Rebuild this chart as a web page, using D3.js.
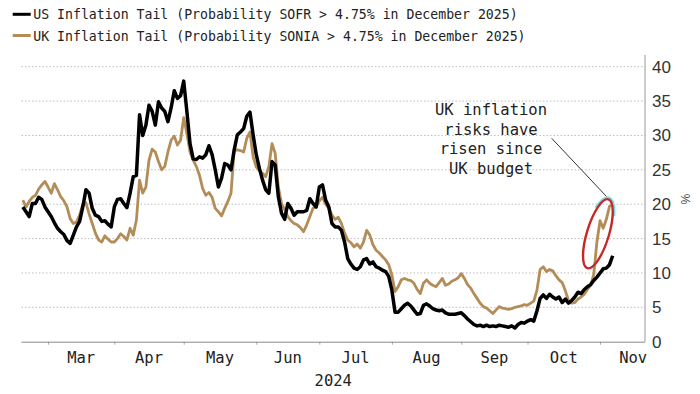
<!DOCTYPE html>
<meta charset="utf-8">
<style>
body { margin: 0; background: #fff; }
text { fill: #222; }
.mono { font-family: "DejaVu Sans Mono", monospace; }
.ytick { font-family: "Liberation Sans", Arial, sans-serif; font-size: 17px; fill: #333; }
</style>
<script src="https://d3js.org/d3.v7.min.js"></script>
<body>
<div id="chart"></div>
<script>
// legend labels
var usLabel = "US Inflation Tail (Probability SOFR > 4.75% in December 2025)";
var ukLabel = "UK Inflation Tail (Probability SONIA > 4.75% in December 2025)";

// first plotted business day, one value per business day after that
var firstDay = "2024-02-20";

// probability in %, US (SOFR)
var usValues = [
  19.6, 18.9, 18.2, 20.1, 20.1, 21.0, 20.7, 19.6, 18.9, 18.2,
  17.3, 16.5, 16.0, 15.6, 14.7, 14.3, 15.5, 16.7, 17.5, 19.6,
  22.1, 21.6, 19.4, 18.4, 18.2, 17.5, 17.6, 17.1, 16.7, 19.6,
  20.7, 20.8, 20.1, 19.5, 21.6, 24.0, 24.2, 33.0, 30.0, 31.5,
  34.4, 33.5, 31.5, 34.9, 34.0, 33.5, 32.0, 34.0, 36.5, 35.4,
  35.8, 37.9, 33.5, 28.8, 26.6, 26.5, 26.9, 26.7, 27.2, 28.5,
  27.2, 25.0, 22.5, 23.8, 25.9, 25.7, 25.0, 27.9, 30.1, 30.5,
  31.0, 32.8, 33.4, 30.1, 27.2, 25.2, 23.5, 22.1, 21.6, 26.2,
  25.7, 21.1, 18.7, 17.8, 20.1, 19.4, 18.4, 18.9, 18.9, 18.9,
  19.1, 20.8, 20.1, 19.6, 22.5, 22.8, 20.6, 19.6, 17.2, 16.7,
  16.7, 16.2, 14.5, 12.1, 11.3, 10.7, 10.5, 10.9, 11.9, 12.1,
  11.3, 11.6, 10.9, 10.7, 10.4, 10.2, 9.5, 7.5, 4.3, 4.3,
  4.8, 5.3, 5.6, 5.2, 4.6, 4.0, 4.1, 5.3, 5.5, 5.2,
  4.8, 4.6, 4.5, 4.6, 4.2, 4.0, 4.0, 4.0, 4.1, 4.2,
  3.8, 3.3, 2.9, 2.5, 2.3, 2.4, 2.2, 2.4, 2.2, 2.3,
  2.2, 2.4, 2.3, 2.2, 2.1, 2.3, 2.0, 2.5, 2.8, 2.7,
  3.0, 3.2, 3.0, 4.5, 6.3, 6.8, 6.3, 6.9, 6.5, 6.2,
  6.5, 5.7, 6.2, 5.6, 6.0, 6.5, 7.2, 7.0, 7.6, 8.0,
  8.3, 8.9, 9.4, 10.0, 10.6, 10.7, 11.2, 12.5
];

// probability in %, UK (SONIA)
var ukValues = [
  20.6, 19.6, 20.4, 21.0, 21.3, 22.2, 22.8, 23.3, 22.5, 21.6,
  23.0, 22.1, 21.1, 20.5, 19.6, 17.9, 17.2, 17.4, 18.4, 20.0,
  20.2, 18.6, 17.2, 15.8, 14.8, 14.5, 15.4, 14.9, 14.5, 14.5,
  15.0, 15.7, 15.3, 14.8, 16.5, 15.5, 17.7, 23.5, 21.6, 22.5,
  26.4, 28.0, 27.6, 26.2, 25.0, 25.5, 27.6, 29.3, 29.9, 28.6,
  29.3, 32.6, 30.3, 27.6, 26.4, 25.5, 24.2, 22.3, 21.3, 21.7,
  21.0, 19.4, 18.9, 18.3, 19.4, 20.4, 21.6, 27.8, 27.9, 27.8,
  27.6, 29.6, 30.5, 26.9, 25.4, 24.9, 24.5, 24.0, 25.5, 28.8,
  27.4, 22.5, 20.1, 19.2, 18.2, 17.6, 17.2, 17.0, 16.6, 16.0,
  17.0, 18.2, 19.4, 19.6, 20.5, 21.0, 20.0, 19.4, 18.4, 17.8,
  18.1, 17.2, 15.8, 14.8, 14.4, 13.8, 14.2, 13.6, 14.5, 16.2,
  15.5, 14.1, 13.3, 12.9, 12.4, 11.9, 11.2, 9.7, 7.3, 8.0,
  9.0, 9.2, 9.0, 8.9, 8.5, 7.6, 7.0, 8.5, 9.0, 8.5,
  8.2, 8.0, 8.6, 9.2, 8.2, 8.4, 8.8, 9.0, 9.3, 9.9,
  9.2, 8.3, 7.8, 7.0, 6.3, 5.6, 5.1, 4.9, 4.5, 4.1,
  4.6, 5.1, 4.9, 4.8, 4.7, 4.8, 5.0, 5.1, 5.2, 5.4,
  5.3, 5.6, 5.9, 7.5, 10.5, 10.9, 10.2, 10.5, 10.3, 9.6,
  9.0, 8.6, 7.4, 6.0, 5.6, 5.7, 6.2, 6.5, 6.9, 7.6,
  8.2, 9.8, 14.5, 17.6, 16.5, 17.8, 19.7, 19.9
];

var yTicks = [0, 5, 10, 15, 20, 25, 30, 35, 40];
var monthNames = ["Mar", "Apr", "May", "Jun", "Jul", "Aug", "Sep", "Oct", "Nov"];
var noteLines = ["UK inflation", "risks have", "risen since", "UK budget"];

var width = 700, height = 394;
var usColor = "#000", ukColor = "#b48c57";

// bloomberg style axis: business days only
var parse = d3.timeParse("%Y-%m-%d");
var calStart = new Date(2024, 1, 19);
var bdays = d3.timeDay.range(calStart, new Date(2024, 11, 10))
  .filter(function(d) { return d.getDay() != 0 && d.getDay() != 6; });
var bdIndex = function(d) { return d3.bisectLeft(bdays, d); };

var i0 = bdIndex(parse(firstDay));
var usData = usValues.map(function(v, k) { return {i: i0 + k, v: v}; });
var ukData = ukValues.map(function(v, k) { return {i: i0 + k, v: v}; });

var plotLeft = 21.5, plotRight = 645;
var x = d3.scaleLinear().domain([0, 198.25]).range([19.7, plotRight]);
var y = d3.scaleLinear().domain([0, 40]).range([341.7, 66.7]);

var svg = d3.select("#chart").append("svg")
  .attr("width", width)
  .attr("height", height);

// dotted gridlines
svg.append("g")
  .selectAll("line")
  .data(yTicks.filter(function(d) { return d > 0; }))
  .enter().append("line")
    .attr("x1", plotLeft).attr("x2", plotRight)
    .attr("y1", function(d) { return y(d); })
    .attr("y2", function(d) { return y(d); })
    .attr("stroke", "#bdbdbd")
    .attr("stroke-width", 1)
    .attr("stroke-dasharray", "1.5,2");

// right axis with labels
var yAxis = svg.append("g")
  .attr("transform", "translate(" + plotRight + ",0)")
  .call(d3.axisRight(y).tickValues(yTicks).tickSize(0).tickPadding(7));
yAxis.select(".domain").remove();
yAxis.selectAll("text").attr("class", "ytick");
svg.append("line")
  .attr("x1", plotRight).attr("x2", plotRight)
  .attr("y1", 55).attr("y2", y(0))
  .attr("stroke", "#999");

svg.append("text")
  .attr("transform", "translate(681,199) rotate(90)")
  .attr("text-anchor", "middle")
  .style("font-family", "Liberation Sans, Arial, sans-serif")
  .style("font-size", "12px")
  .style("fill", "#444")
  .text("%");

// bottom axis: ticks at month starts, labels mid month
var monthStarts = d3.timeMonth.range(new Date(2024, 2, 1), new Date(2024, 11, 2));
var tickIdx = monthStarts.map(bdIndex);
var xAxis = svg.append("g")
  .attr("transform", "translate(0," + y(0) + ")")
  .call(d3.axisBottom(x).tickValues(tickIdx.slice(0, 9)).tickSize(3).tickFormat(""));
xAxis.select(".domain").remove();
xAxis.selectAll("line").attr("stroke", "#aaa");
svg.append("line")
  .attr("x1", plotLeft).attr("x2", plotRight)
  .attr("y1", y(0) + 0.5).attr("y2", y(0) + 0.5)
  .attr("stroke", "#888");

svg.append("g")
  .selectAll("text")
  .data(monthNames)
  .enter().append("text")
    .attr("class", "mono")
    .attr("x", function(d, k) { return x((tickIdx[k] + tickIdx[k + 1]) / 2); })
    .attr("y", 363)
    .attr("text-anchor", "middle")
    .style("font-size", "15.5px")
    .text(function(d) { return d; });

svg.append("text")
  .attr("class", "mono")
  .attr("x", (plotLeft + plotRight) / 2)
  .attr("y", 386)
  .attr("text-anchor", "middle")
  .style("font-size", "15.5px")
  .text("2024");

// the two lines
var line = d3.line()
  .x(function(d) { return x(d.i); })
  .y(function(d) { return y(d.v); });

svg.append("path")
  .datum(ukData)
  .attr("fill", "none")
  .attr("stroke", ukColor)
  .attr("stroke-width", 2.8)
  .attr("stroke-linejoin", "round")
  .attr("d", line);

svg.append("path")
  .datum(usData)
  .attr("fill", "none")
  .attr("stroke", usColor)
  .attr("stroke-width", 3.5)
  .attr("stroke-linejoin", "round")
  .attr("d", line);

// legend
var legend = svg.append("g");
[[usLabel, usColor], [ukLabel, ukColor]].forEach(function(d, k) {
  legend.append("line")
    .attr("x1", 12.7).attr("x2", 30.7)
    .attr("y1", 14.3 + k * 21.2).attr("y2", 14.3 + k * 21.2)
    .attr("stroke", d[1]).attr("stroke-width", 3);
  legend.append("text")
    .attr("class", "mono")
    .attr("x", 33.3)
    .attr("y", 19.3 + k * 21.2)
    .style("font-size", "13.2px")
    .text(d[0]);
});

// annotation
svg.append("g")
  .selectAll("text")
  .data(noteLines)
  .enter().append("text")
    .attr("class", "mono")
    .attr("x", 491)
    .attr("y", function(d, k) { return 115 + k * 19.5; })
    .attr("text-anchor", "middle")
    .style("font-size", "15.5px")
    .text(function(d) { return d; });

svg.append("line")
  .attr("x1", 551.7).attr("y1", 138.3)
  .attr("x2", 606.7).attr("y2", 196.7)
  .attr("stroke", "#333")
  .attr("stroke-width", 1);

// red ring round the post-budget jump (cyan glow on top edge)
var cx = x(bdIndex(new Date(2024, 9, 31))) + 1, cy = y(15.7), rot = 17;
var ring = function(rx, ry, t0, t1) {
  var a = rot * Math.PI / 180, pts = [];
  for (var t = t0; t <= t1 + 0.001; t += 5) {
    var r = t * Math.PI / 180, px = rx * Math.cos(r), py = ry * Math.sin(r);
    pts.push([cx + px * Math.cos(a) - py * Math.sin(a), cy + px * Math.sin(a) + py * Math.cos(a)]);
  }
  return d3.line()(pts);
};
svg.append("path")
  .attr("d", ring(12.6, 37.6, -140, -35))
  .attr("fill", "none")
  .attr("stroke", "#6fe0e6")
  .attr("stroke-width", 2.5);
svg.append("ellipse")
  .attr("transform", "translate(" + cx + "," + cy + ") rotate(" + rot + ")")
  .attr("rx", 11).attr("ry", 36)
  .attr("fill", "none")
  .attr("stroke", "#c62828")
  .attr("stroke-width", 2.4);
</script>
</body>
